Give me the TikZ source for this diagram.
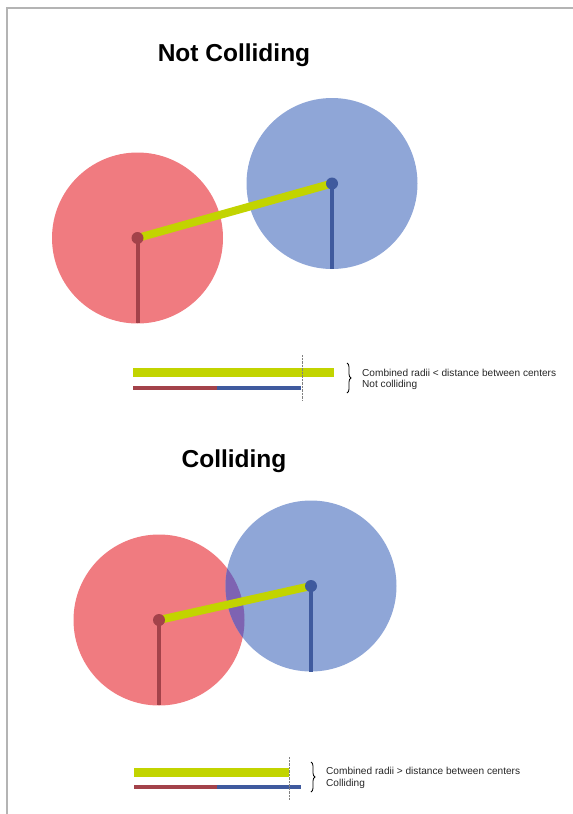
\documentclass[tikz,border=0pt]{standalone}
\usepackage{fontspec}
\setmainfont{Liberation Sans}
\usetikzlibrary{decorations.pathreplacing}

\definecolor{redfill}{HTML}{F07B80}
\definecolor{bluefill}{HTML}{8FA6D7}
\definecolor{overlapfill}{HTML}{7E63B2}
\definecolor{reddark}{HTML}{A3424A}
\definecolor{bluedark}{HTML}{3F5A9E}
\definecolor{limebar}{HTML}{C2D400}
\definecolor{framegray}{HTML}{B4B4B4}

\begin{document}
\begin{tikzpicture}[x=1pt,y=-1pt,
    title/.style={font=\bfseries\fontsize{24.5}{28}\selectfont,inner sep=0pt},
    note/.style={font=\fontsize{10.1}{11}\selectfont,anchor=west,inner sep=0pt,text=black!85},
    radius line/.style={line width=4pt},
    dist line/.style={limebar,line width=8pt},
    sum bar/.style={line width=9pt,limebar},
    part bar/.style={line width=4pt},
    mark line/.style={gray,line width=0.4pt,densely dotted},
    brace/.style={decorate,decoration={brace,amplitude=4pt},line width=0.8pt}]

  \useasboundingbox (0,0) rectangle (573,814);
  % frame
  \draw[framegray,line width=1.5pt] (7,814) -- (7,8) -- (573,8);

  % Not colliding
  \node[title] (t1) at (234,55) {Not Colliding};
  \coordinate (ra) at (137.5,238);
  \coordinate (ba) at (332,183.5);
  \fill[redfill] (ra) circle (85.5);
  \fill[bluefill] (ba) circle (85.5);
  \coordinate (raend) at (137.5,323);
  \coordinate (baend) at (332,269);
  \draw[radius line,reddark] (ra) -- (raend);
  \draw[radius line,bluedark] (ba) -- (baend);
  \draw[dist line] (ra) -- (ba);
  \fill[reddark] (ra) circle (6);
  \fill[bluedark] (ba) circle (6);

  \coordinate (g1a) at (133,372);
  \coordinate (g1b) at (334,372);
  \coordinate (p1a) at (133,388);
  \coordinate (p1m) at (217,388);
  \coordinate (p1b) at (301,388);
  \draw[sum bar] (g1a) -- (g1b);
  \draw[part bar,reddark] (p1a) -- (p1m);
  \draw[part bar,bluedark] (p1m) -- (p1b);
  \coordinate (m1a) at (302.5,355);
  \coordinate (m1b) at (302.5,400);
  \draw[mark line] (m1a) -- (m1b);
  \coordinate (b1a) at (347,363);
  \coordinate (b1b) at (347,393);
  \draw[brace] (b1a) -- (b1b);
  \node[note] (n1) at (362,373) {Combined radii < distance between centers};
  \node[note] (n2) at (362,385) {Not colliding};

  % Colliding
  \node[title] (t2) at (234,461) {Colliding};
  \coordinate (rb) at (159,620);
  \coordinate (bb) at (311,586);
  \fill[redfill] (rb) circle (85.5);
  \fill[bluefill] (bb) circle (85.5);
  \begin{scope}
    \clip (rb) circle (85.5);
    \fill[overlapfill] (bb) circle (85.5);
  \end{scope}
  \coordinate (rbend) at (159,705);
  \coordinate (bbend) at (311,672);
  \draw[radius line,reddark] (rb) -- (rbend);
  \draw[radius line,bluedark] (bb) -- (bbend);
  \draw[dist line] (rb) -- (bb);
  \fill[reddark] (rb) circle (6);
  \fill[bluedark] (bb) circle (6);

  \coordinate (g2a) at (134,772);
  \coordinate (g2b) at (289,772);
  \coordinate (p2a) at (134,787);
  \coordinate (p2m) at (217,787);
  \coordinate (p2b) at (301,787);
  \draw[sum bar] (g2a) -- (g2b);
  \draw[part bar,reddark] (p2a) -- (p2m);
  \draw[part bar,bluedark] (p2m) -- (p2b);
  \coordinate (m2a) at (289,757);
  \coordinate (m2b) at (289,800);
  \draw[mark line] (m2a) -- (m2b);
  \coordinate (b2a) at (311,762);
  \coordinate (b2b) at (311,792);
  \draw[brace] (b2a) -- (b2b);
  \node[note] (n3) at (326,771) {Combined radii > distance between centers};
  \node[note] (n4) at (326,784) {Colliding};
\end{tikzpicture}
\end{document}
